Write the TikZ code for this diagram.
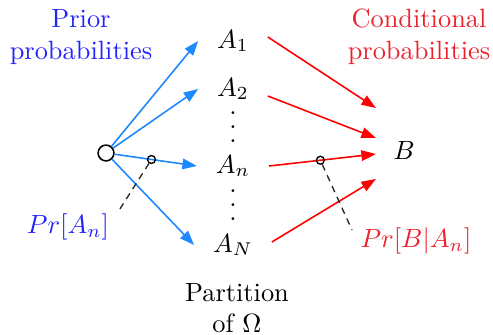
\documentclass[tikz,border=0pt]{standalone}
\usetikzlibrary{arrows.meta,calc}
\definecolor{arrblue}{RGB}{30,136,255}
\definecolor{txtblue}{RGB}{35,35,255}
\definecolor{txtred}{RGB}{235,35,45}
\newcommand\mydots{\vbox{\baselineskip=5.3pt\lineskiplimit=0pt\hbox{.}\hbox{.}\hbox{.}}}
\begin{document}
\begin{tikzpicture}[x=0.379pt,y=-0.379pt,
  barrow/.style={arrblue,line width=0.6pt,-{Triangle[length=5.5pt,width=4pt]}},
  rarrow/.style={red,line width=0.6pt,-{Triangle[length=5.5pt,width=4pt]}},
  leadline/.style={black!85,dash pattern=on 2.5pt off 2pt,line width=0.5pt},
  tinycirc/.style={circle,draw=black,line width=0.5pt,minimum size=3pt,inner sep=0pt},
  anode/.style={inner xsep=7pt,inner ysep=2pt}]
\useasboundingbox (0,0) rectangle (493,335);

\node[circle,draw,line width=0.6pt,minimum size=6pt,inner sep=0pt] (o) at (106,153) {};

\node[anode] (a1) at (233,41) {$A_1$};
\node[anode] (a2) at (233,89) {$A_2$};
\node[anode] (an) at (233,166) {$A_n$};
\node[anode] (aN) at (233,245) {$A_N$};
\node[inner sep=0pt] (d1) at (233,127) {\mydots};
\node[inner sep=0pt] (d2) at (233,205) {\mydots};
\node[inner xsep=6.4pt] (b) at (404,150) {$B$};

\draw[barrow] (o) -- (a1.west);
\draw[barrow] (o) -- (a2.west);
\draw[barrow] (o) -- (an.west);
\draw[barrow] (o) -- (aN.west);

\draw[rarrow] ($(a1.east)+(0,-4)$) -- ($(b.west)+(0,-42)$);
\draw[rarrow] ($(a2.east)+(0,7)$) -- ($(b.west)+(0,-12)$);
\draw[rarrow] (an.east) -- ($(b.west)+(0,4)$);
\draw[rarrow] ($(aN.east)+(0,-3)$) -- ($(b.west)+(0,29)$);

\node[tinycirc] (p1) at ($(o)!0.5!(an.west)$) {};
\node[tinycirc] (p2) at ($(an.east)!0.48!($(b.west)+(0,4)$)$) {};
\coordinate (e1) at (118,212);
\coordinate (e2) at (352,230);
\draw[leadline] (p1) -- (e1);
\draw[leadline] (p2) -- (e2);

\node[txtblue,align=center] (prior) at (81,37) {Prior\\probabilities};
\node[txtred,align=center] (cond) at (419,37) {Conditional\\probabilities};
\node[txtblue] (pa) at (68,227) {$Pr[A_n]$};
\node[txtred] (pb) at (416,241) {$Pr[B|A_n]$};
\node[align=center] (part) at (237,308) {Partition\\of $\Omega$};
\end{tikzpicture}
\end{document}
